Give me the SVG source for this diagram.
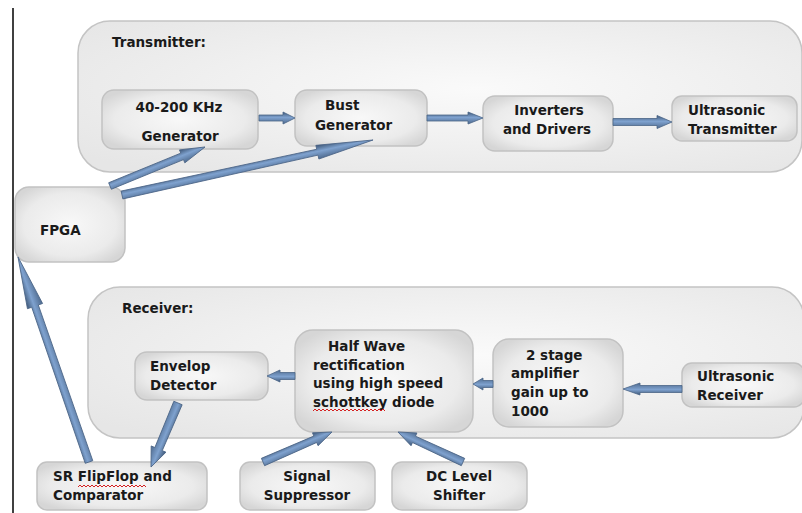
<svg xmlns="http://www.w3.org/2000/svg" width="802" height="513" viewBox="0 0 802 513">
<defs>
<radialGradient id="gBox" cx="0.5" cy="0.5" r="0.6">
<stop offset="0" stop-color="#f8f8f8"/>
<stop offset="0.7" stop-color="#ebebeb"/>
<stop offset="1" stop-color="#d6d6d6"/>
</radialGradient>
<radialGradient id="gCont" cx="0.55" cy="0.45" r="0.7">
<stop offset="0" stop-color="#fafafa"/>
<stop offset="1" stop-color="#e6e6e6"/>
</radialGradient>
<linearGradient id="gArr" x1="0" y1="0" x2="0" y2="1">
<stop offset="0" stop-color="#3f5878"/>
<stop offset="0.45" stop-color="#7fa2cf"/>
<stop offset="1" stop-color="#4e6a8e"/>
</linearGradient>
<style>
.cont{fill:url(#gCont);stroke:#c4c4c4;stroke-width:1.5}
.box{fill:url(#gBox);stroke:#c2c2c2;stroke-width:1.5}
.t{font-family:"DejaVu Sans","Liberation Sans",sans-serif;font-weight:bold;font-size:13.5px;fill:#1a1a1a}
.c{text-anchor:middle}
.arr{fill:url(#gArr);stroke:#4a6486;stroke-width:0.8}
.sq{fill:none;stroke:#d42020;stroke-width:1}
</style>
</defs>
<rect width="802" height="513" fill="#ffffff"/>
<line x1="13" y1="8" x2="13" y2="513" stroke="#000" stroke-width="1.5"/>

<g id="transmitter">
<rect class="cont" x="78" y="21" width="724" height="151" rx="32"/>
<text class="t" x="112" y="47">Transmitter:</text>
</g>
<g id="receiver">
<rect class="cont" x="88" y="287" width="716" height="151" rx="32"/>
<text class="t" x="122" y="313">Receiver:</text>
</g>

<g id="gen">
<rect class="box" x="102" y="90" width="156" height="59" rx="12"/>
<text class="t c" x="179" y="112">40-200 KHz</text>
<text class="t c" x="180" y="141">Generator</text>
</g>
<g id="bust">
<rect class="box" x="295" y="90" width="132" height="56" rx="12"/>
<text class="t" x="325" y="110">Bust</text>
<text class="t" x="315" y="130">Generator</text>
</g>
<g id="inverters">
<rect class="box" x="483" y="96" width="130" height="55" rx="12"/>
<text class="t c" x="549" y="115">Inverters</text>
<text class="t c" x="547" y="134">and Drivers</text>
</g>
<g id="utx">
<rect class="box" x="672" y="96" width="125" height="45" rx="10"/>
<text class="t" x="688" y="115">Ultrasonic</text>
<text class="t" x="688" y="134">Transmitter</text>
</g>
<g id="fpga">
<rect class="box" x="15" y="187" width="110" height="75" rx="14"/>
<text class="t" x="40" y="235">FPGA</text>
</g>
<g id="envelop">
<rect class="box" x="135" y="352" width="133" height="48" rx="12"/>
<text class="t" x="150" y="371">Envelop</text>
<text class="t" x="150" y="390">Detector</text>
</g>
<g id="halfwave">
<rect class="box" x="295" y="330" width="178" height="102" rx="18"/>
<text class="t" x="328" y="351">Half Wave</text>
<text class="t" x="313" y="370">rectification</text>
<text class="t" x="313" y="388">using high speed</text>
<text class="t" x="313" y="407">schottkey diode</text>
<path class="sq" d="M313,411 l2,-2 l2,2 l2,-2 l2,2 l2,-2 l2,2 l2,-2 l2,2 l2,-2 l2,2 l2,-2 l2,2 l2,-2 l2,2 l2,-2 l2,2 l2,-2 l2,2 l2,-2 l2,2 l2,-2 l2,2 l2,-2 l2,2 l2,-2 l2,2 l2,-2 l2,2 l2,-2 l2,2 l2,-2 l2,2 l2,-2 l2,2 l2,-2 l2,2"/>
</g>
<g id="amplifier">
<rect class="box" x="493" y="339" width="130" height="88" rx="16"/>
<text class="t" x="526" y="360">2 stage</text>
<text class="t" x="511" y="378">amplifier</text>
<text class="t" x="511" y="397">gain up to</text>
<text class="t" x="511" y="416">1000</text>
</g>
<g id="urx">
<rect class="box" x="682" y="363" width="122" height="44" rx="10"/>
<text class="t" x="697" y="381">Ultrasonic</text>
<text class="t" x="697" y="400">Receiver</text>
</g>
<g id="srff">
<rect class="box" x="37" y="462" width="170" height="48" rx="10"/>
<text class="t" x="53" y="481">SR FlipFlop and</text>
<text class="t" x="53" y="500">Comparator</text>
<path class="sq" d="M78,487 l2,-2 l2,2 l2,-2 l2,2 l2,-2 l2,2 l2,-2 l2,2 l2,-2 l2,2 l2,-2 l2,2 l2,-2 l2,2 l2,-2 l2,2 l2,-2 l2,2 l2,-2 l2,2 l2,-2 l2,2 l2,-2 l2,2 l2,-2 l2,2 l2,-2 l2,2 l2,-2 l2,2 l2,-2 l2,2 l2,-2 l2,2"/>
</g>
<g id="suppressor">
<rect class="box" x="240" y="462" width="135" height="48" rx="10"/>
<text class="t c" x="307" y="481">Signal</text>
<text class="t c" x="307" y="500">Suppressor</text>
</g>
<g id="dcshifter">
<rect class="box" x="392" y="462" width="135" height="48" rx="10"/>
<text class="t c" x="459" y="481">DC Level</text>
<text class="t c" x="459" y="500">Shifter</text>
</g>

<g id="connectors">
<polygon class="arr" transform="translate(259,118)" points="0,-3 24,-3 24,-6 36,0 24,6 24,3 0,3"/>
<polygon class="arr" transform="translate(427,118)" points="0,-3 41,-3 41,-6 56,0 41,6 41,3 0,3"/>
<polygon class="arr" transform="translate(613,122)" points="0,-3.5 44,-3.5 44,-6.5 59,0 44,6.5 44,3.5 0,3.5"/>
<polygon class="arr" transform="translate(110,186) rotate(-22.32)" points="0,-3.5 78,-3.5 78,-7 102.7,0 78,7 78,3.5 0,3.5"/>
<polygon class="arr" transform="translate(122,195) rotate(-12.36)" points="0,-4 200,-3 200,-7 257,0 200,7 200,3 0,4"/>
<polygon class="arr" transform="translate(493,384) rotate(180)" points="0,-3.5 10,-3.5 10,-6 20,0 10,6 10,3.5 0,3.5"/>
<polygon class="arr" transform="translate(682,389) rotate(180)" points="0,-3.5 42,-3.5 42,-6 59,0 42,6 42,3.5 0,3.5"/>
<polygon class="arr" transform="translate(295,376) rotate(180)" points="0,-3.5 15,-3.5 15,-6 28,0 15,6 15,3.5 0,3.5"/>
<polygon class="arr" transform="translate(178,403) rotate(112.87)" points="0,-4.5 50,-4 50,-8 69.5,0 50,8 50,4 0,4.5"/>
<polygon class="arr" transform="translate(89,462) rotate(-109.1)" points="0,-4 165,-3.5 165,-8 217,0 165,8 165,3.5 0,4"/>
<polygon class="arr" transform="translate(263,462) rotate(-23.5)" points="0,-4 57,-3.5 57,-7 75.2,0 57,7 57,3.5 0,4"/>
<polygon class="arr" transform="translate(463,462) rotate(-155.22)" points="0,-4 54,-3.5 54,-7 71.6,0 54,7 54,3.5 0,4"/>
</g>
</svg>
